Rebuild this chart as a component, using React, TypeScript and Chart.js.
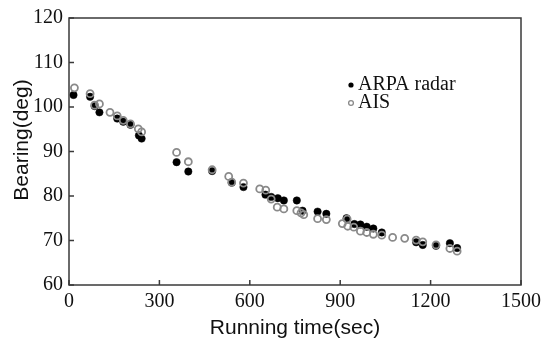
import React, { useEffect, useRef } from "react";
import { Chart, registerables } from "chart.js";

Chart.register(...registerables);

// Running time (sec) and bearing (deg)
const arpaTime = [15, 70, 85, 101, 160, 180, 204, 232, 241, 357, 396, 475, 540, 579, 652, 671, 693, 713, 756, 775, 825, 854, 921, 947, 967, 988, 1010, 1038, 1152, 1174, 1218, 1264, 1288];
const arpaBearing = [102.7, 102.3, 100.2, 98.8, 97.4, 96.7, 96.0, 93.6, 92.9, 87.6, 85.5, 85.6, 83.0, 82.0, 80.3, 79.8, 79.5, 79.0, 79.0, 76.7, 76.5, 76.0, 75.0, 73.7, 73.6, 73.1, 72.7, 71.8, 69.6, 69.0, 68.8, 69.4, 68.3];

const aisTime = [18, 70, 85, 101, 136, 160, 180, 204, 230, 241, 357, 396, 475, 530, 540, 579, 633, 653, 671, 691, 713, 756, 770, 779, 825, 854, 907, 923, 925, 945, 967, 988, 1010, 1038, 1074, 1114, 1152, 1174, 1218, 1264, 1288];
const aisBearing = [104.3, 103.0, 100.4, 100.7, 98.8, 98.0, 97.0, 96.2, 95.1, 94.4, 89.8, 87.7, 85.9, 84.4, 83.1, 82.9, 81.6, 81.3, 79.3, 77.5, 77.1, 76.7, 76.2, 75.8, 74.9, 74.7, 73.8, 74.8, 73.2, 73.0, 72.1, 71.8, 71.4, 71.2, 70.7, 70.5, 70.1, 69.7, 69.0, 68.2, 67.6];

const xTicks = [0, 300, 600, 900, 1200, 1500];
const yTicks = [60, 70, 80, 90, 100, 110, 120];
const seriesNames = ["ARPA radar", "AIS"];
const xTitle = "Running time(sec)";
const yTitle = "Bearing(deg)";

const AXIS_COLOR = "#3a3a3a";
const AIS_COLOR = "#8a8a8a";

const framePlugin = {
  id: "frame",
  afterDraw(chart: any) {
    const { ctx, chartArea } = chart;
    const xs = chart.scales.x;
    const ys = chart.scales.y;
    ctx.save();
    ctx.strokeStyle = AXIS_COLOR;
    ctx.lineWidth = 1.5;
    ctx.strokeRect(chartArea.left, chartArea.top, chartArea.right - chartArea.left, chartArea.bottom - chartArea.top);
    ctx.beginPath();
    const tl = 5;
    xTicks.forEach((v) => {
      const px = xs.getPixelForValue(v);
      ctx.moveTo(px, chartArea.bottom);
      ctx.lineTo(px, chartArea.bottom - tl);
    });
    yTicks.forEach((v) => {
      const py = ys.getPixelForValue(v);
      ctx.moveTo(chartArea.left, py);
      ctx.lineTo(chartArea.left + tl, py);
    });
    ctx.stroke();

    // y-axis title
    ctx.save();
    ctx.translate(22, 140);
    ctx.rotate(-Math.PI / 2);
    ctx.fillStyle = "#111";
    ctx.font = "21px 'Liberation Sans', Arial, sans-serif";
    ctx.textAlign = "center";
    ctx.textBaseline = "middle";
    ctx.fillText(yTitle, 0, 0);
    ctx.restore();

    // legend
    const lx = 351;
    const ly1 = 85;
    const ly2 = 103;
    ctx.fillStyle = "#000";
    ctx.beginPath();
    ctx.arc(lx, ly1, 2.6, 0, Math.PI * 2);
    ctx.fill();
    ctx.strokeStyle = AIS_COLOR;
    ctx.lineWidth = 1.3;
    ctx.beginPath();
    ctx.arc(lx, ly2, 2.4, 0, Math.PI * 2);
    ctx.stroke();
    ctx.fillStyle = "#111";
    ctx.font = "20px 'Liberation Serif', serif";
    ctx.textBaseline = "alphabetic";
    ctx.textAlign = "left";
    ctx.fillText(seriesNames[0], 358, 90);
    ctx.fillText(seriesNames[1], 358, 108);
    ctx.restore();
  },
};

export default function App() {
  const ref = useRef<HTMLCanvasElement | null>(null);

  useEffect(() => {
    document.body.style.margin = "0";
    const canvas = ref.current;
    if (!canvas) return;
    const chart = new Chart(canvas, {
      type: "scatter",
      data: {
        datasets: [
          {
            label: seriesNames[0],
            data: arpaTime.map((t, i) => ({ x: t, y: arpaBearing[i] })),
            pointRadius: 3.7,
            pointBackgroundColor: "#000",
            pointBorderColor: "#000",
            pointBorderWidth: 0.5,
            order: 2,
          },
          {
            label: seriesNames[1],
            data: aisTime.map((t, i) => ({ x: t, y: aisBearing[i] })),
            pointRadius: 3.5,
            pointBackgroundColor: "rgba(255,255,255,0)",
            pointBorderColor: AIS_COLOR,
            pointBorderWidth: 1.8,
            order: 1,
          },
        ],
      },
      options: {
        responsive: false,
        animation: false,
        layout: { padding: { top: 13, right: 20, left: 0, bottom: 0 } },
        plugins: { legend: { display: false }, tooltip: { enabled: false } },
        scales: {
          x: {
            type: "linear",
            min: 0,
            max: 1500,
            afterBuildTicks: (s: any) => {
              s.ticks = xTicks.map((v) => ({ value: v }));
            },
            afterFit: (s: any) => {
              s.height = 56;
            },
            grid: { display: false, drawTicks: false },
            border: { display: false },
            ticks: {
              color: "#111",
              padding: 5,
              maxRotation: 0,
              callback: (v: any) => String(v),
              font: { family: "'Liberation Serif', serif", size: 20 },
            },
            title: {
              display: true,
              text: xTitle,
              color: "#111",
              font: { family: "'Liberation Sans', Arial, sans-serif", size: 21 },
              padding: { top: 0, bottom: 0 },
            },
          },
          y: {
            type: "linear",
            min: 60,
            max: 120,
            afterBuildTicks: (s: any) => {
              s.ticks = yTicks.map((v) => ({ value: v }));
            },
            afterFit: (s: any) => {
              s.width = 69;
            },
            grid: { display: false, drawTicks: false },
            border: { display: false },
            ticks: {
              color: "#111",
              padding: 6,
              callback: (v: any) => String(v),
              font: { family: "'Liberation Serif', serif", size: 20 },
            },
            title: { display: false },
          },
        },
      },
      plugins: [framePlugin],
    });
    return () => chart.destroy();
  }, []);

  return (
    <div style={{ width: 546, height: 341 }}>
      <canvas ref={ref} width={546} height={341} style={{ display: "block" }} />
    </div>
  );
}
